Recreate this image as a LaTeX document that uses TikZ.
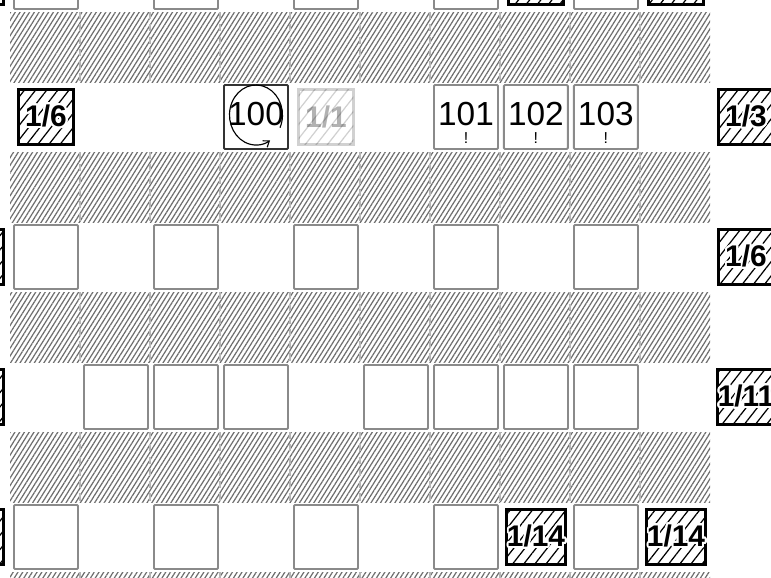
\documentclass[tikz,border=0pt]{standalone}
\usepackage{fontspec}
\setmainfont{Liberation Sans}
\usepackage[copies]{contour}
\contourlength{1.1pt}
\contournumber{32}
\usetikzlibrary{patterns.meta, arrows.meta, positioning}
\definecolor{hatchgray}{HTML}{6E6E6E}
\definecolor{boxgray}{HTML}{8A8A8A}
\definecolor{rulegray}{HTML}{B5B5B5}
\tikzset{
  % fascia tratteggiata fra due righe di caselle
  band/.style={pattern={Lines[angle=58, distance=2.3pt, line width=0.7pt]},
    pattern color=hatchgray},
  % bordo leggero fra le celle di una fascia
  divider/.style={draw=rulegray, line width=0.6pt, dash pattern=on 4pt off 3pt},
  % casella vuota
  cell/.style={draw=boxgray, line width=1.1pt, fill=white, minimum size=1.28cm,
    inner sep=0pt, rounded corners=0.6pt, font=\fontsize{19}{19}\selectfont,
    text depth=0.14cm},
  cell hl/.style={cell, draw=black!80},
  % cartellino tratteggiato scuro
  tag/.style={draw=black, line width=1.7pt, minimum size=1.1cm, inner sep=0pt,
    pattern={Lines[angle=52, distance=5pt, line width=0.7pt]}, pattern color=black,
    font=\fontsize{17}{17}\selectfont\bfseries},
  tag off/.style={tag, opacity=0.18, text opacity=0.3},
  % punto esclamativo sotto il numero
  bang/.style={anchor=south, inner sep=0pt, yshift=0.13cm,
    font=\fontsize{9}{9}\selectfont},
  % freccia circolare
  spin/.style={line width=0.65pt, -{Straight Barb[length=3pt, width=4.5pt]}},
}

\begin{document}
\begin{tikzpicture}[x=0.02cm, y=0.02cm]
  \useasboundingbox (0,0) rectangle (771,-578);
  \clip (0,0) rectangle (771,-578);

  % fasce
  \foreach \k in {0,...,4} {
    \foreach \c in {0,...,9}
      \path[band] (10+70*\c,-12-140*\k) rectangle ++(70,-70);
    \foreach \c in {1,...,9}
      \draw[divider] (10+70*\c,-12-140*\k) -- ++(0,-70);
  }

  % caselle vuote
  \foreach \c in {0,2,4,6,8} {
    \node[cell] (a\c) at (46+70*\c,23) {};
    \node[cell] (c\c) at (46+70*\c,-257) {};
    \node[cell] (e\c) at (46+70*\c,-537) {};
  }
  \foreach \c in {1,2,3,5,6,7,8}
    \node[cell] (d\c) at (46+70*\c,-397) {};

  % cartellini ai bordi
  \foreach \r/\y in {a/23,c/-257,d/-397,e/-537}
    \node[tag] (\r-left) at (-24,\y) {};
  \node[tag] (a7) at (536,23) {};
  \node[tag] (a9) at (676,23) {};

  % riga dei numeri
  \node[tag] (t16) at (46,-117) {\contour{white}{1/6}};
  \node[cell hl] (n100) at (256,-117) {100};
  \node[tag off] (t11) at (326,-117) {1/1};
  \node[cell, label={[bang]south:!}] (n101) at (466,-117) {101};
  \node[cell, label={[bang]south:!}, right=0.08cm of n101] (n102) {102};
  \node[cell, label={[bang]south:!}, right=0.08cm of n102] (n103) {103};
  \node[tag] (t13) at (746,-117) {\contour{white}{1/3}};
  \draw[spin] ([yshift=0.04cm]n100.center) ++(-25:0.53cm and 0.6cm)
    arc[start angle=-25, end angle=302, x radius=0.53cm, y radius=0.6cm];

  % cartellini a destra
  \node[tag] (c10) at (746,-257) {\contour{white}{1/6}};
  \node[tag] (d10) at (746,-397) {\contour{white}{1/11}};
  \node[tag] (e7) at (536,-537) {\contour{white}{1/14}};
  \node[tag] (e9) at (676,-537) {\contour{white}{1/14}};
\end{tikzpicture}
\end{document}
